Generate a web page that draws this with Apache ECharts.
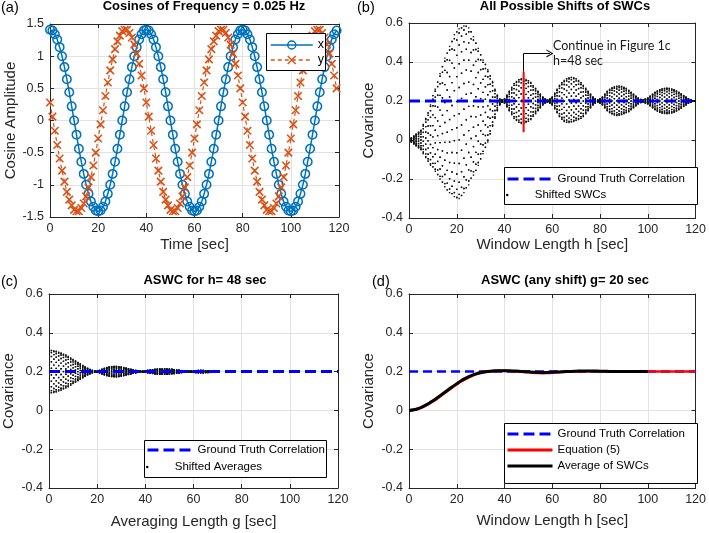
<!DOCTYPE html>
<html>
<head>
<meta charset="utf-8">
<script src="https://cdn.jsdelivr.net/npm/echarts@6/dist/echarts.min.js"></script>
<style>
  html, body { margin: 0; padding: 0; background: #fff; }
  #main { width: 709px; height: 533px; }
</style>
</head>
<body>
<div id="main"></div>
<script>
// (a) cosines, one sample per second
var timeSec = [
  0, 1, 2, 3, 4, 5, 6, 7, 8, 9, 10, 11, 12, 13, 14, 15, 16, 17, 18, 19,
  20, 21, 22, 23, 24, 25, 26, 27, 28, 29, 30, 31, 32, 33, 34, 35, 36, 37, 38, 39,
  40, 41, 42, 43, 44, 45, 46, 47, 48, 49, 50, 51, 52, 53, 54, 55, 56, 57, 58, 59,
  60, 61, 62, 63, 64, 65, 66, 67, 68, 69, 70, 71, 72, 73, 74, 75, 76, 77, 78, 79,
  80, 81, 82, 83, 84, 85, 86, 87, 88, 89, 90, 91, 92, 93, 94, 95, 96, 97, 98, 99,
  100, 101, 102, 103, 104, 105, 106, 107, 108, 109, 110, 111, 112, 113, 114, 115, 116, 117, 118, 119
];
var xCosine = [
  1.41, 1.40, 1.34, 1.26, 1.14, 1.00, 0.83, 0.64, 0.44, 0.22, 0.00, -0.22, -0.44, -0.64, -0.83, -1.00, -1.14, -1.26, -1.34, -1.40,
  -1.41, -1.40, -1.34, -1.26, -1.14, -1.00, -0.83, -0.64, -0.44, -0.22, 0.00, 0.22, 0.44, 0.64, 0.83, 1.00, 1.14, 1.26, 1.34, 1.40,
  1.41, 1.40, 1.34, 1.26, 1.14, 1.00, 0.83, 0.64, 0.44, 0.22, 0.00, -0.22, -0.44, -0.64, -0.83, -1.00, -1.14, -1.26, -1.34, -1.40,
  -1.41, -1.40, -1.34, -1.26, -1.14, -1.00, -0.83, -0.64, -0.44, -0.22, 0.00, 0.22, 0.44, 0.64, 0.83, 1.00, 1.14, 1.26, 1.34, 1.40,
  1.41, 1.40, 1.34, 1.26, 1.14, 1.00, 0.83, 0.64, 0.44, 0.22, 0.00, -0.22, -0.44, -0.64, -0.83, -1.00, -1.14, -1.26, -1.34, -1.40,
  -1.41, -1.40, -1.34, -1.26, -1.14, -1.00, -0.83, -0.64, -0.44, -0.22, 0.00, 0.22, 0.44, 0.64, 0.83, 1.00, 1.14, 1.26, 1.34, 1.40
];
var yCosine = [
  0.28, 0.06, -0.16, -0.38, -0.59, -0.78, -0.95, -1.11, -1.23, -1.32, -1.39, -1.41, -1.41, -1.36, -1.29, -1.18, -1.04, -0.88, -0.70, -0.50,
  -0.28, -0.06, 0.16, 0.38, 0.59, 0.78, 0.95, 1.11, 1.23, 1.32, 1.39, 1.41, 1.41, 1.36, 1.29, 1.18, 1.04, 0.88, 0.70, 0.50,
  0.28, 0.06, -0.16, -0.38, -0.59, -0.78, -0.95, -1.11, -1.23, -1.32, -1.39, -1.41, -1.41, -1.36, -1.29, -1.18, -1.04, -0.88, -0.70, -0.50,
  -0.28, -0.06, 0.16, 0.38, 0.59, 0.78, 0.95, 1.11, 1.23, 1.32, 1.39, 1.41, 1.41, 1.36, 1.29, 1.18, 1.04, 0.88, 0.70, 0.50,
  0.28, 0.06, -0.16, -0.38, -0.59, -0.78, -0.95, -1.11, -1.23, -1.32, -1.39, -1.41, -1.41, -1.36, -1.29, -1.18, -1.04, -0.88, -0.70, -0.50,
  -0.28, -0.06, 0.16, 0.38, 0.59, 0.78, 0.95, 1.11, 1.23, 1.32, 1.39, 1.41, 1.41, 1.36, 1.29, 1.18, 1.04, 0.88, 0.70, 0.50
];

// (b) spread of shifted SWCs for each window length h (upper / lower edge)
var windowH = [
  1, 2, 3, 4, 5, 6, 7, 8, 9, 10, 11, 12, 13, 14, 15, 16, 17, 18, 19, 20,
  21, 22, 23, 24, 25, 26, 27, 28, 29, 30, 31, 32, 33, 34, 35, 36, 37, 38, 39, 40,
  41, 42, 43, 44, 45, 46, 47, 48, 49, 50, 51, 52, 53, 54, 55, 56, 57, 58, 59, 60,
  61, 62, 63, 64, 65, 66, 67, 68, 69, 70, 71, 72, 73, 74, 75, 76, 77, 78, 79, 80,
  81, 82, 83, 84, 85, 86, 87, 88, 89, 90, 91, 92, 93, 94, 95, 96, 97, 98, 99, 100,
  101, 102, 103, 104, 105, 106, 107, 108, 109, 110, 111, 112, 113, 114, 115, 116, 117, 118, 119, 120
];
var swcHigh = [
  0.01, 0.02, 0.03, 0.04, 0.05, 0.08, 0.11, 0.14, 0.18, 0.23, 0.26, 0.30, 0.34, 0.38, 0.42, 0.45, 0.48, 0.51, 0.54, 0.56,
  0.57, 0.58, 0.585, 0.588, 0.575, 0.56, 0.53, 0.50, 0.47, 0.44, 0.41, 0.39, 0.36, 0.33, 0.30, 0.26, 0.23, 0.21, 0.205, 0.21,
  0.23, 0.25, 0.27, 0.29, 0.30, 0.31, 0.315, 0.315, 0.31, 0.305, 0.295, 0.28, 0.265, 0.25, 0.235, 0.22, 0.21, 0.205, 0.21, 0.22,
  0.24, 0.26, 0.28, 0.295, 0.305, 0.315, 0.32, 0.322, 0.32, 0.315, 0.305, 0.295, 0.28, 0.265, 0.25, 0.235, 0.22, 0.21, 0.205, 0.21,
  0.22, 0.235, 0.25, 0.26, 0.268, 0.273, 0.276, 0.277, 0.275, 0.27, 0.265, 0.255, 0.245, 0.235, 0.225, 0.215, 0.208, 0.204, 0.21, 0.215,
  0.225, 0.235, 0.245, 0.252, 0.258, 0.262, 0.265, 0.266, 0.265, 0.262, 0.258, 0.252, 0.245, 0.237, 0.228, 0.22, 0.212, 0.206, 0.202, 0.2
];
var swcLow = [
  -0.01, -0.02, -0.03, -0.04, -0.05, -0.07, -0.09, -0.11, -0.13, -0.14, -0.16, -0.18, -0.20, -0.22, -0.24, -0.26, -0.27, -0.28, -0.29, -0.30,
  -0.30, -0.29, -0.27, -0.25, -0.23, -0.20, -0.18, -0.16, -0.13, -0.10, -0.07, -0.04, -0.01, 0.03, 0.07, 0.11, 0.15, 0.18, 0.195, 0.19,
  0.17, 0.15, 0.13, 0.11, 0.10, 0.09, 0.085, 0.085, 0.09, 0.095, 0.105, 0.12, 0.135, 0.15, 0.165, 0.18, 0.19, 0.195, 0.19, 0.18,
  0.16, 0.14, 0.12, 0.105, 0.095, 0.09, 0.09, 0.092, 0.095, 0.10, 0.105, 0.11, 0.12, 0.135, 0.15, 0.165, 0.18, 0.19, 0.195, 0.19,
  0.18, 0.165, 0.15, 0.14, 0.133, 0.128, 0.126, 0.127, 0.13, 0.135, 0.14, 0.145, 0.155, 0.165, 0.175, 0.185, 0.192, 0.196, 0.19, 0.185,
  0.175, 0.165, 0.155, 0.148, 0.142, 0.138, 0.136, 0.135, 0.136, 0.138, 0.142, 0.148, 0.155, 0.163, 0.172, 0.18, 0.188, 0.194, 0.198, 0.2
];
var truthH = [0, 120];
var truthValue = [0.2, 0.2];
// red marker at h = 48 and the arrow to the note
var cutH = [48, 48];
var cutValue = [0.04, 0.35];
var arrowCorner = [48, 0.444];
var arrowTip = [59, 0.444];
var noteAt = [60.3, 0.444];

// (c) spread of shifted averages for h = 48
var avgLength = [
  0, 1, 2, 3, 4, 5, 6, 7, 8, 9, 10, 11, 12, 13, 14, 15, 16, 17, 18, 19, 20,
  21, 22, 23, 24, 25, 26, 27, 28, 29, 30, 31, 32, 33, 34, 35, 36, 37, 38, 39,
  40, 41, 42, 43, 44, 45, 46, 47, 48, 49, 50, 51, 52, 53, 54, 55, 56, 57, 58,
  59, 60, 61, 62, 63, 64, 65, 66, 67, 68, 69, 70
];
var shiftHigh = [
  0.31, 0.31, 0.308, 0.305, 0.30, 0.296, 0.29, 0.285, 0.278, 0.27, 0.262, 0.255, 0.247, 0.24, 0.232, 0.224, 0.217, 0.211, 0.206, 0.202, 0.201,
  0.206, 0.212, 0.217, 0.221, 0.224, 0.226, 0.227, 0.227, 0.226, 0.224, 0.221, 0.218, 0.215, 0.212, 0.209, 0.206, 0.204, 0.202, 0.201,
  0.203, 0.206, 0.208, 0.21, 0.212, 0.213, 0.214, 0.214, 0.214, 0.214, 0.213, 0.212, 0.21, 0.208, 0.207, 0.205, 0.204, 0.203, 0.202,
  0.203, 0.204, 0.205, 0.206, 0.206, 0.206, 0.205, 0.205, 0.204, 0.203, 0.202, 0.201
];
var shiftLow = [
  0.09, 0.09, 0.092, 0.095, 0.10, 0.104, 0.11, 0.115, 0.122, 0.13, 0.138, 0.145, 0.153, 0.16, 0.168, 0.176, 0.183, 0.189, 0.194, 0.198, 0.199,
  0.194, 0.188, 0.183, 0.179, 0.176, 0.174, 0.173, 0.173, 0.174, 0.176, 0.179, 0.182, 0.185, 0.188, 0.191, 0.194, 0.196, 0.198, 0.199,
  0.197, 0.194, 0.192, 0.19, 0.188, 0.187, 0.186, 0.186, 0.186, 0.186, 0.187, 0.188, 0.19, 0.192, 0.193, 0.195, 0.196, 0.197, 0.198,
  0.197, 0.196, 0.195, 0.194, 0.194, 0.194, 0.195, 0.195, 0.196, 0.197, 0.198, 0.199
];

// (d) ASWC with g = 20 sec
var dWindow = [
  0, 2, 4, 6, 8, 10, 12, 14, 16, 18, 20, 22, 24, 26, 28, 30, 32, 34, 36, 38,
  40, 42, 44, 46, 48, 50, 52, 54, 56, 58, 60, 62, 64, 66, 68, 70, 72, 74, 76, 78,
  80, 82, 84, 86, 88, 90, 92, 94, 96, 98, 100, 102, 104, 106, 108, 110, 112, 114, 116, 118, 120
];
var equation5 = [
  0, 0.002, 0.008, 0.018, 0.031, 0.046, 0.063, 0.081, 0.099, 0.117, 0.134, 0.150, 0.164, 0.176, 0.186, 0.193, 0.198, 0.201, 0.203, 0.204,
  0.204, 0.203, 0.202, 0.200, 0.198, 0.196, 0.194, 0.193, 0.192, 0.193, 0.194, 0.196, 0.198, 0.199, 0.200, 0.201, 0.202, 0.202, 0.202, 0.202,
  0.201, 0.201, 0.200, 0.200, 0.199, 0.199, 0.199, 0.199, 0.200, 0.200, 0.200, 0.200, 0.200, 0.200, 0.200, 0.200, 0.200, 0.200, 0.200, 0.200, 0.200
];
var averageSWC = [
  0, 0.003, 0.010, 0.021, 0.034, 0.050, 0.067, 0.085, 0.103, 0.121, 0.138, 0.154, 0.168, 0.179, 0.188, 0.195, 0.199, 0.202, 0.204, 0.205,
  0.205, 0.204, 0.203, 0.202, 0.200, 0.199, 0.197, 0.196, 0.195, 0.196, 0.197, 0.198, 0.199, 0.200, 0.201, 0.202, 0.203, 0.203, 0.203, 0.203,
  0.202, 0.202, 0.201, 0.201, 0.200, 0.200, 0.200, 0.200, 0.200, 0.200, 0.200
];

var FONT = 'Liberation Sans';
var INK = '#262626';
var GRID_LINE = '#e2e2e2';
var BLUE = '#0072bd';
var ORANGE = '#d95319';
var DOTS_PER_COLUMN = 20;

function pairs(xs, ys) {
  return ys.map(function (v, i) { return [xs[i], v]; });
}
function bandRows(xs, lo, hi) {
  return xs.map(function (x, i) { return [x, lo[i], hi[i]]; });
}

// one column of scatter dots spread between the low and high edge of each h;
// neighbouring columns are offset by half a step so the dots form a lattice
function dotColumn(params, api) {
  var h = api.value(0);
  var pLo = api.coord([h, api.value(1)]);
  var pHi = api.coord([h, api.value(2)]);
  var phase = (params.dataIndex % 2) * Math.PI / DOTS_PER_COLUMN;
  var dots = [];
  for (var k = 0; k < DOTS_PER_COLUMN; k++) {
    var f = (1 - Math.cos(2 * Math.PI * k / DOTS_PER_COLUMN + phase)) / 2;
    var y = pLo[1] + (pHi[1] - pLo[1]) * f;
    dots.push({
      type: 'rect',
      shape: { x: pLo[0] - 0.7, y: y - 0.7, width: 1.4, height: 1.4 },
      style: { fill: '#111' }
    });
  }
  return { type: 'group', children: dots };
}

function bottomAxis(grid, name, gap) {
  return {
    type: 'value', gridIndex: grid, min: 0, max: 120, interval: 20,
    name: name, nameLocation: 'middle', nameGap: gap,
    nameTextStyle: { fontFamily: FONT, fontSize: 15, color: INK },
    axisLine: { onZero: false, lineStyle: { color: INK } },
    axisTick: { inside: true, length: 4, lineStyle: { color: INK } },
    axisLabel: { fontFamily: FONT, fontSize: 12.5, color: INK, margin: 5 },
    splitLine: { show: true, lineStyle: { color: GRID_LINE } }
  };
}
function topAxis(grid) {
  return {
    type: 'value', gridIndex: grid, position: 'top', min: 0, max: 120, interval: 20,
    axisLine: { onZero: false, lineStyle: { color: INK } },
    axisTick: { inside: true, length: 4, lineStyle: { color: INK } },
    axisLabel: { show: false }, splitLine: { show: false }
  };
}
function leftAxis(grid, min, max, step, name, gap) {
  return {
    type: 'value', gridIndex: grid, min: min, max: max, interval: step,
    name: name, nameLocation: 'middle', nameGap: gap,
    nameTextStyle: { fontFamily: FONT, fontSize: 15, color: INK },
    axisLine: { show: true, onZero: false, lineStyle: { color: INK } },
    axisTick: { show: true, inside: true, length: 4, lineStyle: { color: INK } },
    axisLabel: { fontFamily: FONT, fontSize: 12.5, color: INK, margin: 6 },
    splitLine: { show: true, lineStyle: { color: GRID_LINE } }
  };
}
function rightAxis(grid, min, max, step) {
  return {
    type: 'value', gridIndex: grid, position: 'right', min: min, max: max, interval: step,
    axisLine: { show: true, onZero: false, lineStyle: { color: INK } },
    axisTick: { show: true, inside: true, length: 4, lineStyle: { color: INK } },
    axisLabel: { show: false }, splitLine: { show: false }
  };
}

function panelTitle(text, cx, top) {
  return {
    text: text, left: cx, top: top, textAlign: 'center', padding: 0,
    textStyle: { fontFamily: FONT, fontSize: 13, fontWeight: 'bold', color: '#000' }
  };
}
function panelTag(text, left, top) {
  return {
    text: text, left: left, top: top, padding: 0,
    textStyle: { fontFamily: FONT, fontSize: 14.5, fontWeight: 'normal', color: '#000' }
  };
}

var legendText = { fontFamily: FONT, fontSize: 11.5, color: '#000', lineHeight: 14 };

function legendBox(x, y, w, h) {
  return {
    type: 'rect', z: 10,
    shape: { x: x + 0.5, y: y + 0.5, width: w, height: h },
    style: { fill: '#fff', stroke: '#000', lineWidth: 1 }
  };
}

// line-only series: hide the marker that the legend would add to the icon
var noMarker = { opacity: 0 };

var myChart = echarts.init(document.getElementById('main'));

var option = {
  backgroundColor: '#fff',
  animation: false,
  title: [
    panelTag('(a)', 1, 0),
    panelTag('(b)', 357, 0),
    panelTag('(c)', 1, 274),
    panelTag('(d)', 372, 274),
    panelTitle('Cosines of Frequency = 0.025 Hz', 204, 0),
    panelTitle('All Possible Shifts of SWCs', 565, 0),
    panelTitle('ASWC for h= 48 sec', 205, 274),
    panelTitle('ASWC (any shift) g= 20 sec', 565, 274)
  ],
  grid: [
    { left: 50, top: 24, width: 289, height: 193 },
    { left: 409, top: 23, width: 288, height: 195 },
    { left: 49, top: 294, width: 289, height: 194 },
    { left: 409, top: 294, width: 288, height: 194 }
  ],
  xAxis: [
    bottomAxis(0, 'Time [sec]', 20),
    bottomAxis(1, 'Window Length h [sec]', 17),
    bottomAxis(2, 'Averaging Length g [sec]', 26),
    bottomAxis(3, 'Window Length h [sec]', 25),
    topAxis(0), topAxis(1), topAxis(2), topAxis(3)
  ],
  yAxis: [
    leftAxis(0, -1.5, 1.5, 0.5, 'Cosine Amplitude', 32),
    leftAxis(1, -0.4, 0.6, 0.2, 'Covariance', 33),
    leftAxis(2, -0.4, 0.6, 0.2, 'Covariance', 33),
    leftAxis(3, -0.4, 0.6, 0.2, 'Covariance', 33),
    rightAxis(0, -1.5, 1.5, 0.5), rightAxis(1, -0.4, 0.6, 0.2),
    rightAxis(2, -0.4, 0.6, 0.2), rightAxis(3, -0.4, 0.6, 0.2)
  ],
  legend: [
    {
      data: ['x', 'y'], orient: 'vertical', left: 270, top: 38, padding: 0,
      itemWidth: 42, itemHeight: 10, itemGap: 1, selectedMode: false, z: 11,
      lineStyle: { width: 1.5 }, itemStyle: { borderWidth: 1.5 },
      textStyle: { fontFamily: FONT, fontSize: 12.5, color: '#000', lineHeight: 14 }
    },
    {
      data: ['Ground Truth Correlation'], left: 506, top: 172, padding: 0,
      itemWidth: 45, itemHeight: 10, selectedMode: false, z: 11,
      lineStyle: { width: 3 }, textStyle: legendText
    },
    {
      data: [{ name: 'Shifted SWCs', icon: 'circle' }], left: 506, top: 188, padding: 0,
      itemWidth: 45, itemHeight: 2.5, selectedMode: false, z: 11, textStyle: legendText
    },
    {
      data: ['Ground Truth Correlation'], left: 146, top: 443, padding: 0,
      itemWidth: 45, itemHeight: 10, selectedMode: false, z: 11,
      lineStyle: { width: 3 }, textStyle: legendText
    },
    {
      data: [{ name: 'Shifted Averages', icon: 'circle' }], left: 146, top: 460, padding: 0,
      itemWidth: 45, itemHeight: 2.5, selectedMode: false, z: 11, textStyle: legendText
    },
    {
      data: ['Ground Truth Correlation', 'Equation (5)', 'Average of SWCs'],
      orient: 'vertical', left: 506, top: 427, padding: 0,
      itemWidth: 45, itemHeight: 10, itemGap: 2, selectedMode: false, z: 11,
      lineStyle: { width: 3 }, textStyle: legendText
    }
  ],
  graphic: [
    legendBox(266, 33, 59, 37),
    legendBox(504, 167, 193, 37),
    legendBox(144, 440, 182, 37),
    legendBox(504, 423, 193, 60)
  ],
  series: [
    // (a)
    {
      name: 'x', type: 'line', xAxisIndex: 0, yAxisIndex: 0,
      data: pairs(timeSec, xCosine),
      symbol: 'circle', symbolSize: 8.5, showAllSymbol: true,
      itemStyle: { color: 'rgba(0,0,0,0)', borderColor: BLUE, borderWidth: 1.5 },
      lineStyle: { color: BLUE, width: 1.5 }
    },
    {
      name: 'y', type: 'line', xAxisIndex: 0, yAxisIndex: 0,
      data: pairs(timeSec, yCosine),
      symbol: 'path://M0,0L10,10M10,0L0,10', symbolSize: 7.5, showAllSymbol: true,
      itemStyle: { color: ORANGE, borderColor: ORANGE, borderWidth: 1.6 },
      lineStyle: { color: ORANGE, width: 1.2, type: [4, 3] }
    },
    // (b)
    {
      name: 'Ground Truth Correlation', type: 'line', xAxisIndex: 1, yAxisIndex: 1,
      data: pairs(truthH, truthValue), symbol: 'none', z: 4, itemStyle: noMarker,
      lineStyle: { color: '#0000ff', width: 3, type: [11, 5] }
    },
    {
      name: 'Shifted SWCs', type: 'custom', xAxisIndex: 1, yAxisIndex: 1,
      data: bandRows(windowH, swcLow, swcHigh), renderItem: dotColumn,
      encode: { x: 0, y: [1, 2] }, itemStyle: { color: '#000' }, silent: true, clip: true, z: 2
    },
    {
      name: 'h = 48 sec', type: 'line', xAxisIndex: 1, yAxisIndex: 1,
      data: pairs(cutH, cutValue), symbol: 'none', z: 5, silent: true,
      lineStyle: { color: '#ff0000', width: 2 },
      markLine: {
        silent: true, symbol: ['none', 'none'], animation: false,
        label: { show: false },
        lineStyle: { color: '#000', width: 1, type: 'solid' },
        data: [
          [{ coord: [cutH[1], cutValue[1]] }, { coord: arrowCorner }],
          [{ coord: arrowCorner }, {
            coord: arrowTip, symbol: 'path://M0,10L5,0L10,10L8.6,10L5,2.8L1.4,10Z', symbolSize: [8, 7]
          }]
        ]
      },
      markPoint: {
        silent: true, symbol: 'circle', symbolSize: 0.1,
        itemStyle: { color: 'rgba(0,0,0,0)' },
        data: [{
          coord: noteAt,
          label: {
            show: true, position: 'right', distance: 0,
            formatter: 'Continue in Figure 1c\nh=48 sec',
            fontFamily: 'Lato', fontSize: 12.5, lineHeight: 15, color: '#1a1a1a', align: 'left'
          }
        }]
      }
    },
    // (c)
    {
      name: 'Ground Truth Correlation', type: 'line', xAxisIndex: 2, yAxisIndex: 2,
      data: pairs(truthH, truthValue), symbol: 'none', z: 4, itemStyle: noMarker,
      lineStyle: { color: '#0000ff', width: 3, type: [11, 5] }
    },
    {
      name: 'Shifted Averages', type: 'custom', xAxisIndex: 2, yAxisIndex: 2,
      data: bandRows(avgLength, shiftLow, shiftHigh), renderItem: dotColumn,
      encode: { x: 0, y: [1, 2] }, itemStyle: { color: '#000' }, silent: true, clip: true, z: 2
    },
    // (d)
    {
      name: 'Ground Truth Correlation', type: 'line', xAxisIndex: 3, yAxisIndex: 3,
      data: pairs(truthH, truthValue), symbol: 'none', z: 2, itemStyle: noMarker,
      lineStyle: { color: '#0000ff', width: 2.5, type: [9, 5] }
    },
    {
      name: 'Equation (5)', type: 'line', xAxisIndex: 3, yAxisIndex: 3,
      data: pairs(dWindow, equation5), symbol: 'none', smooth: true, z: 3,
      lineStyle: { color: '#ff0000', width: 2.5 }, itemStyle: noMarker
    },
    {
      name: 'Average of SWCs', type: 'line', xAxisIndex: 3, yAxisIndex: 3,
      data: pairs(dWindow, averageSWC), symbol: 'none', smooth: true, z: 4,
      lineStyle: { color: '#000', width: 3 }, itemStyle: noMarker
    }
  ]
};

myChart.setOption(option);
</script>
</body>
</html>
